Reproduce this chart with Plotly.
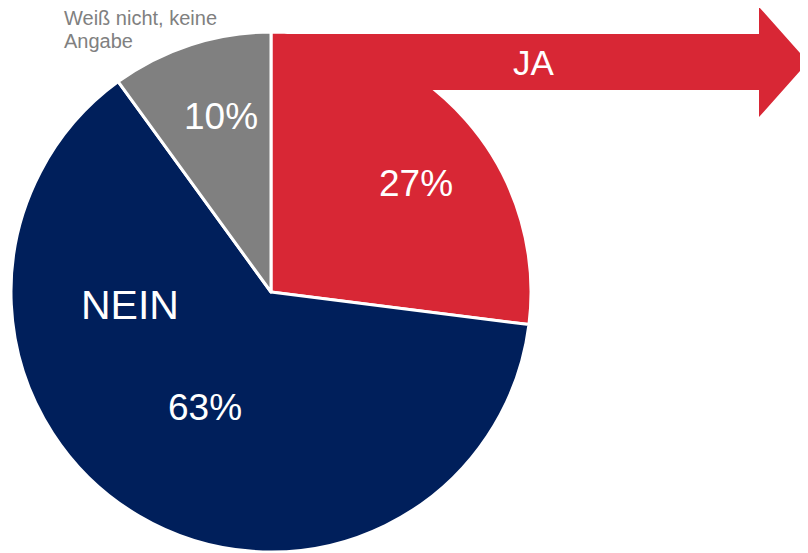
import plotly.graph_objects as go

W, H = 808, 553
labels = ["JA", "NEIN", "Weiß nicht, keine Angabe"]
values = [27, 63, 10]
colors = ["#D82735", "#001F5B", "#808080"]
pct_text = ["27%", "63%", "10%"]
side_label_lines = ["Weiß nicht, keine", "Angabe"]

OFF = 8  # page body margin compensation
cx, cy, r = 271, 292, 260

def px(x):
    return (x - OFF) / W

def py(y):
    return 1 - (y - OFF) / H

fig = go.Figure(go.Pie(
    labels=labels, values=values, sort=False, direction="clockwise", rotation=0,
    marker=dict(colors=colors, line=dict(color="white", width=3)),
    textinfo="none", hoverinfo="label+percent", showlegend=False,
    domain=dict(x=[px(cx - r), px(cx + r)], y=[py(cy + r), py(cy - r)]),
))

arrow = [(273, 34), (759, 34), (759, 7), (808, 62), (759, 117), (759, 90), (273, 90)]
path = "M " + " L ".join(f"{px(x):.5f},{py(y):.5f}" for x, y in arrow) + " Z"
fig.add_shape(type="path", path=path, xref="paper", yref="paper",
              fillcolor="#D82735", line=dict(width=0), layer="above")

font = "Liberation Sans, Arial, sans-serif"
ann = [
    ("JA", 534, 62, 35, "white"),
    (pct_text[0], 416.5, 183.5, 37, "white"),
    ("NEIN", 129.5, 305, 41, "white"),
    (pct_text[1], 205, 407, 37, "white"),
    (pct_text[2], 220.5, 116.5, 37, "white"),
]
for t, x, y, s, c in ann:
    fig.add_annotation(text=t, x=px(x), y=py(y), xref="paper", yref="paper",
                       showarrow=False, font=dict(family=font, size=s, color=c),
                       xanchor="center", yanchor="middle")
for t, y in zip(side_label_lines, [18.5, 40.5]):
    fig.add_annotation(text=t, x=px(63), y=py(y), xref="paper", yref="paper",
                       showarrow=False, align="left", xanchor="left", yanchor="middle",
                       borderpad=0,
                       font=dict(family=font, size=20, color="#808080"))

fig.update_layout(width=W, height=H, margin=dict(l=0, r=0, t=0, b=0),
                  paper_bgcolor="white", plot_bgcolor="white")
fig.write_html("out.html")
